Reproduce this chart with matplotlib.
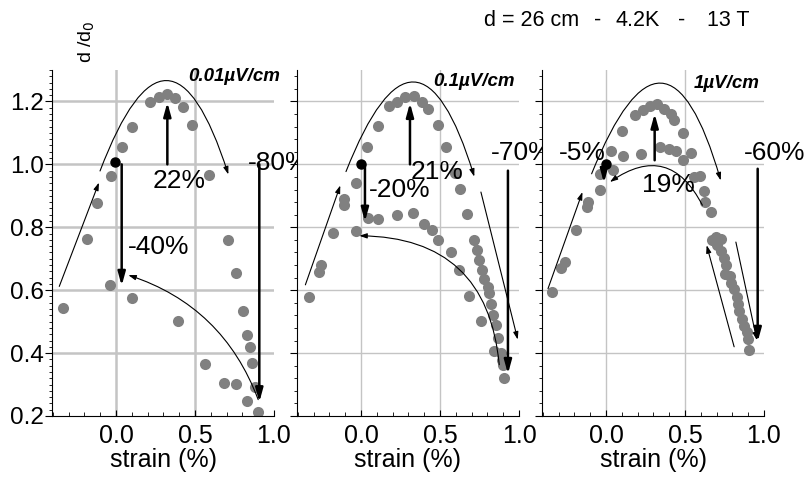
import matplotlib
matplotlib.use("Agg")
import matplotlib.pyplot as plt
from matplotlib.ticker import MultipleLocator

plt.rcParams['font.family'] = ['Liberation Sans', 'DejaVu Sans']

# measured points (strain %, normalised Ic)
p1 = [(-0.337, 0.543), (-0.186, 0.764), (-0.118, 0.876), (-0.034, 0.963), (-0.038, 0.617),
      (0.036, 1.055), (0.103, 1.118), (0.103, 0.575), (0.215, 1.198), (0.274, 1.214),
      (0.325, 1.225), (0.373, 1.212), (0.422, 1.183), (0.483, 1.125), (0.394, 0.503),
      (0.561, 0.365), (0.591, 0.966), (0.684, 0.305), (0.711, 0.760), (0.757, 0.654),
      (0.757, 0.302), (0.802, 0.535), (0.831, 0.458), (0.848, 0.418), (0.863, 0.370),
      (0.831, 0.249), (0.880, 0.291), (0.901, 0.214)]
p2 = [(-0.327, 0.577), (-0.264, 0.659), (-0.253, 0.680), (-0.179, 0.782), (-0.110, 0.890),
      (-0.110, 0.870), (-0.032, 0.940), (-0.032, 0.788), (0.038, 1.056), (0.046, 0.831),
      (0.105, 1.122), (0.105, 0.827), (0.179, 1.184), (0.228, 1.197), (0.228, 0.840),
      (0.278, 1.213), (0.327, 0.845), (0.333, 1.217), (0.384, 1.199), (0.401, 0.811),
      (0.422, 1.176), (0.447, 0.792), (0.485, 1.125), (0.489, 0.760), (0.538, 1.056),
      (0.570, 0.720), (0.597, 0.974), (0.622, 0.665), (0.629, 0.921), (0.671, 0.843),
      (0.686, 0.580), (0.713, 0.760), (0.734, 0.728), (0.749, 0.697), (0.759, 0.503),
      (0.764, 0.665), (0.781, 0.637), (0.802, 0.611), (0.808, 0.591), (0.823, 0.557),
      (0.838, 0.521), (0.840, 0.408), (0.854, 0.490), (0.869, 0.448), (0.886, 0.400),
      (0.890, 0.379), (0.900, 0.363), (0.907, 0.320)]
p3 = [(-0.342, 0.595), (-0.282, 0.671), (-0.261, 0.689), (-0.191, 0.790), (-0.117, 0.880),
      (-0.120, 0.865), (-0.038, 0.970), (-0.038, 0.920), (0.030, 1.044), (0.047, 0.981),
      (0.100, 1.105), (0.106, 1.026), (0.185, 1.156), (0.221, 1.034), (0.234, 1.174),
      (0.280, 1.184), (0.323, 1.193), (0.340, 1.055), (0.369, 1.177), (0.397, 1.050),
      (0.412, 1.161), (0.429, 1.142), (0.446, 1.044), (0.486, 1.100), (0.486, 1.013),
      (0.535, 1.036), (0.556, 0.960), (0.594, 0.962), (0.620, 0.916), (0.624, 0.879),
      (0.667, 0.849), (0.673, 0.760), (0.694, 0.770), (0.705, 0.744), (0.726, 0.764),
      (0.726, 0.723), (0.747, 0.702), (0.752, 0.650), (0.758, 0.681), (0.785, 0.645),
      (0.794, 0.624), (0.811, 0.603), (0.828, 0.577), (0.836, 0.556), (0.843, 0.535),
      (0.858, 0.509), (0.875, 0.485), (0.892, 0.467), (0.900, 0.446), (0.906, 0.409)]

start_pts = [(-0.006, 1.007), (0.0, 1.0), (0.0, 1.0)]
criteria = ["0.01\u00b5V/cm", "0.1\u00b5V/cm", "1\u00b5V/cm"]
crit_pos = [(0.456, 1.279), (0.456, 1.262), (0.554, 1.258)]

# thick arrows: x, y from, y to
big_arrows = [
    [(0.036, 1.0, 0.614), (0.325, 1.0, 1.197), (0.907, 1.0, 0.244)],
    [(0.025, 1.0, 0.818), (0.310, 1.0, 1.195), (0.930, 0.98, 0.334)],
    [(-0.013, 1.0, 0.941), (0.308, 1.013, 1.161), (0.960, 0.986, 0.436)],
]
# percent labels: text, x, y
pct_labels = [
    [("-40%", 0.076, 0.736), ("22%", 0.234, 0.946), ("-80%", 0.835, 1.005)],
    [("-20%", 0.050, 0.920), ("21%", 0.316, 0.976), ("-70%", 0.823, 1.036)],
    [("-5%", -0.300, 1.035), ("19%", 0.227, 0.934), ("-60%", 0.870, 1.035)],
]
# thin guide arrows: x0, y0, x1, y1, bend
guides = [
    [(-0.359, 0.612, -0.108, 0.942, 0), (0.759, 0.920, 1.010, 0.360, 0),
     (-0.101, 0.979, 0.711, 0.968, -1.43), (0.900, 0.252, 0.078, 0.648, 0.24)],
    [(-0.352, 0.617, -0.131, 0.933, 0), (0.759, 0.912, 0.992, 0.443, 0),
     (-0.095, 0.977, 0.717, 0.961, -1.43), (0.875, 0.363, -0.011, 0.773, 0.45)],
    [(-0.367, 0.605, -0.149, 0.912, 0), (0.822, 0.753, 0.955, 0.441, 0),
     (0.811, 0.420, 0.637, 0.743, 0),
     (-0.091, 0.970, 0.726, 0.949, -1.45), (0.610, 0.870, 0.025, 0.944, 0.57)],
]

grid_x = [0.0, 0.5]
grid_y = [0.4, 0.6, 0.8, 1.0, 1.2]

# header pieces and their left pixel positions
header = [("d = 26 cm", 484), ("-", 594), ("4.2K", 615), ("-", 678), ("13 T", 707)]

fig = plt.figure(figsize=(8.06, 4.82), dpi=100)
lefts = [52, 297, 542]
W, H = 806, 482
panels = [p1, p2, p3]

for i in range(3):
    ax = fig.add_axes([lefts[i] / W, 66 / H, 222 / W, 346 / H])
    ax.set_xlim(-0.405, 1.0)
    ax.set_ylim(0.2, 1.3)
    for s in ['top', 'right']:
        ax.spines[s].set_visible(False)
    gw = 1.8 if i == 0 else 1.0
    for gx in grid_x:
        ax.axvline(gx, color='#c4c4c4', lw=gw, zorder=0)
    for gy in grid_y:
        ax.axhline(gy, color='#c4c4c4', lw=gw, zorder=0)

    xs = [p[0] for p in panels[i]]
    ys = [p[1] for p in panels[i]]
    ax.plot(xs, ys, 'o', color='#808080', ms=8, mec='none', zorder=2)
    ax.plot(start_pts[i][0], start_pts[i][1], 'o', color='black', ms=6.5, zorder=4)

    for gx0, gy0, gx1, gy1, rad in guides[i]:
        ax.annotate("", xy=(gx1, gy1), xytext=(gx0, gy0),
                    arrowprops=dict(arrowstyle='-|>,head_length=0.45,head_width=0.15',
                                    connectionstyle='arc3,rad=%g' % rad,
                                    color='black', lw=0.8, shrinkA=0, shrinkB=0),
                    zorder=3)
    for ax_x, a0, a1 in big_arrows[i]:
        ax.annotate("", xy=(ax_x, a1), xytext=(ax_x, a0),
                    arrowprops=dict(arrowstyle='-|>,head_length=0.8,head_width=0.22',
                                    color='black', lw=1.8, shrinkA=0, shrinkB=0),
                    zorder=5)
    for t, tx, ty in pct_labels[i]:
        ax.text(tx, ty, t, fontsize=19, ha='left', va='center', zorder=6)

    ax.text(crit_pos[i][0], crit_pos[i][1], criteria[i], fontsize=13.5,
            fontweight='bold', fontstyle='italic', ha='left', va='center')

    ax.set_xticks([0.0, 0.5, 1.0])
    ax.set_xticklabels(["0.0", "0.5", "1.0"])
    ax.xaxis.set_minor_locator(MultipleLocator(0.1))
    ax.tick_params(axis='x', which='major', direction='in', length=4, labelsize=18, pad=6)
    ax.tick_params(axis='x', which='minor', direction='in', length=3)
    ax.set_yticks([0.2, 0.4, 0.6, 0.8, 1.0, 1.2])
    ax.set_yticklabels(["0.2", "0.4", "0.6", "0.8", "1.0", "1.2"])
    ax.yaxis.set_minor_locator(MultipleLocator(0.02 if i == 0 else 0.04))
    ax.tick_params(axis='y', which='major', direction='out', length=5, labelsize=17.5, pad=1)
    ax.tick_params(axis='y', which='minor', direction='out', length=2.5)
    if i > 0:
        ax.tick_params(axis='y', labelleft=False)
    ax.set_xlabel("strain (%)", fontsize=18, labelpad=0)

fig.text(87 / W, 1 - 42 / H, "d /d$_0$", rotation=90, fontsize=14, ha='center', va='center')
for t, px in header:
    fig.text(px / W, 1 - 20 / H, t, fontsize=15.5, ha='left', va='center')

fig.savefig("out.png", dpi=100)
